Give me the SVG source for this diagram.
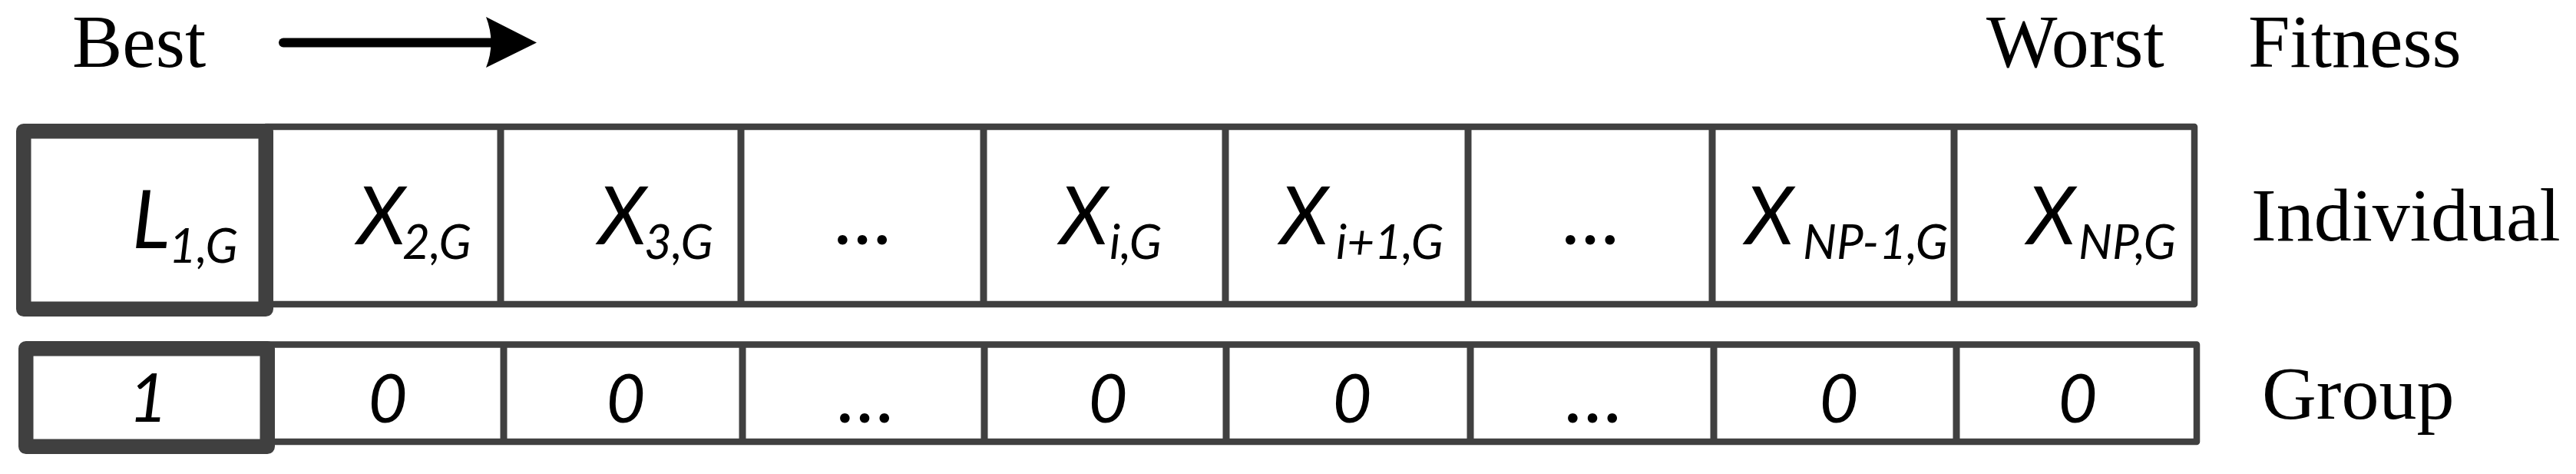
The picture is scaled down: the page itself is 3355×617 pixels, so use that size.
<svg xmlns="http://www.w3.org/2000/svg" width="3355" height="617" viewBox="0 0 3355 617">
<style>
.lbl{font-family:"Liberation Serif","Times New Roman",serif;font-size:98px;fill:#000}
.cell{fill:#fff;stroke:#404040;stroke-width:8.5;stroke-linejoin:round}
.thick{fill:#fff;stroke:#404040;stroke-width:19.5;stroke-linejoin:round}
.div{stroke:#404040;stroke-width:9}
.m{font-family:Lato,"Open Sans",sans-serif;font-style:italic;font-size:104px;fill:#000}
.s{font-size:62px}
.d{font-family:Lato,"Open Sans",sans-serif;font-style:italic;font-size:88px;fill:#000;text-anchor:middle}
.e{font-size:100px}
</style>
<rect width="3355" height="617" fill="#fff"/>
<g id="labels">
<text class="lbl" x="94" y="87">Best</text>
<text class="lbl" x="2587" y="87">Worst</text>
<text class="lbl" x="2928" y="87">Fitness</text>
<text class="lbl" x="2932" y="313">Individual</text>
<text class="lbl" x="2946" y="545">Group</text>
</g>
<g id="connectors">
<line x1="369" y1="55.5" x2="640" y2="55.5" stroke="#000" stroke-width="12" stroke-linecap="round"/>
<path d="M633,22 L699,55.5 L633,88 Q646,55.5 633,22 Z" fill="#000"/>
</g>
<g id="individual-row">
<rect class="cell" x="346" y="165" width="2512" height="231"/>
<line class="div" x1="652" y1="165" x2="652" y2="396"/>
<line class="div" x1="965" y1="165" x2="965" y2="396"/>
<line class="div" x1="1281" y1="165" x2="1281" y2="396"/>
<line class="div" x1="1596" y1="165" x2="1596" y2="396"/>
<line class="div" x1="1912" y1="165" x2="1912" y2="396"/>
<line class="div" x1="2230" y1="165" x2="2230" y2="396"/>
<line class="div" x1="2545" y1="165" x2="2545" y2="396"/>
</g>
<g id="ind-L1"><rect class="thick" x="30.75" y="170.75" width="315.5" height="231.5"/><text class="m" x="172" y="323">L<tspan class="s" x="220" dy="19">1,G</tspan></text></g>
<g id="ind-X2"><text class="m" x="465" y="318">X<tspan class="s" x="524" dy="19">2,G</tspan></text></g>
<g id="ind-X3"><text class="m" x="779" y="318">X<tspan class="s" x="839" dy="19">3,G</tspan></text></g>
<g id="ind-dots1"><text class="d e" x="1126" y="318">…</text></g>
<g id="ind-Xi"><text class="m" x="1380" y="318">X<tspan class="s" x="1445" dy="19">i,G</tspan></text></g>
<g id="ind-Xi1"><text class="m" x="1667" y="318">X<tspan class="s" x="1740" dy="19">i+1,G</tspan></text></g>
<g id="ind-dots2"><text class="d e" x="2074" y="318">…</text></g>
<g id="ind-XNP1"><text class="m" x="2273" y="318">X<tspan class="s" x="2348" dy="19">NP-1,G</tspan></text></g>
<g id="ind-XNP"><text class="m" x="2640" y="318">X<tspan class="s" x="2707" dy="19">NP,G</tspan></text></g>
<g id="group-row">
<rect class="cell" x="348" y="448.5" width="2513" height="126.5"/>
<line class="div" x1="656" y1="448.5" x2="656" y2="575"/>
<line class="div" x1="967" y1="448.5" x2="967" y2="575"/>
<line class="div" x1="1282" y1="448.5" x2="1282" y2="575"/>
<line class="div" x1="1597" y1="448.5" x2="1597" y2="575"/>
<line class="div" x1="1915" y1="448.5" x2="1915" y2="575"/>
<line class="div" x1="2232" y1="448.5" x2="2232" y2="575"/>
<line class="div" x1="2548" y1="448.5" x2="2548" y2="575"/>
</g>
<g id="grp-1"><rect class="thick" x="33.75" y="453.75" width="314.5" height="127.5"/><text class="d" x="193" y="549">1</text></g>
<g id="grp-2"><text class="d" x="505" y="550">0</text></g>
<g id="grp-3"><text class="d" x="815" y="550">0</text></g>
<g id="grp-4"><text class="d e" x="1129" y="550">…</text></g>
<g id="grp-5"><text class="d" x="1443" y="550">0</text></g>
<g id="grp-6"><text class="d" x="1761" y="550">0</text></g>
<g id="grp-7"><text class="d e" x="2077" y="550">…</text></g>
<g id="grp-8"><text class="d" x="2395" y="550">0</text></g>
<g id="grp-9"><text class="d" x="2706" y="550">0</text></g>
</svg>
